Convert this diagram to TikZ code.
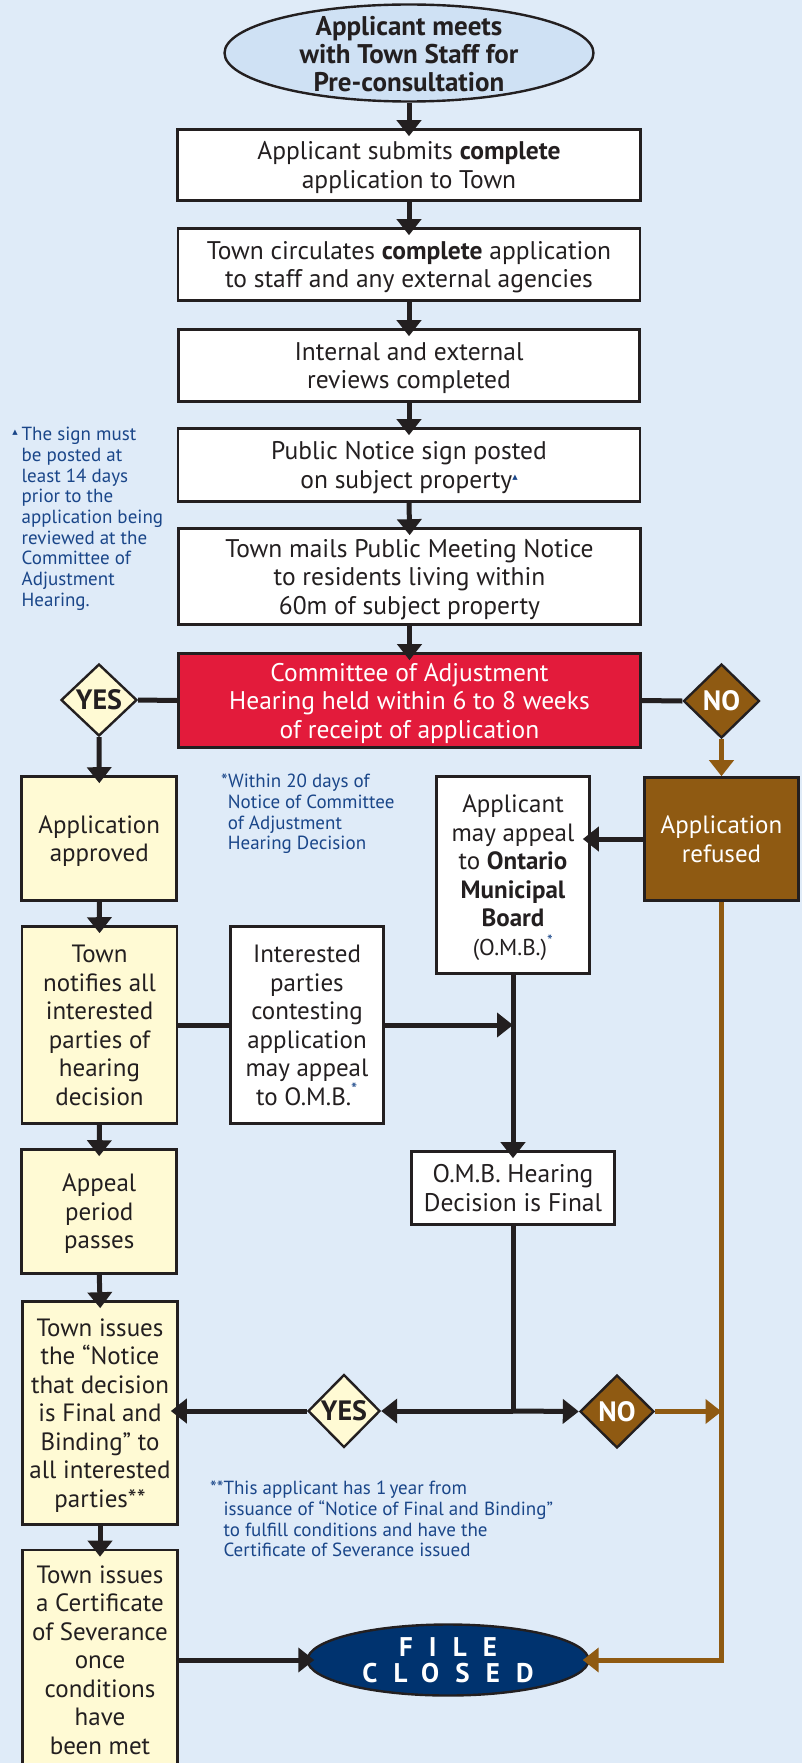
\documentclass[tikz,border=0pt]{standalone}
\usepackage{fontspec}
\setmainfont{PT Sans}
\newfontfamily\symfont{DejaVu Sans}
\newfontfamily\spacedfont[LetterSpace=60]{PT Sans}
\usetikzlibrary{arrows.meta,shapes.geometric}
\definecolor{bg}{HTML}{DFEBF8}
\definecolor{ellfill}{HTML}{CFE1F4}
\definecolor{linec}{HTML}{231F20}
\definecolor{redbox}{HTML}{E31B3B}
\definecolor{brownc}{HTML}{8F5A12}
\definecolor{yellowc}{HTML}{FFFAD4}
\definecolor{navy}{HTML}{00336F}
\definecolor{notec}{HTML}{1A4689}
\newcommand{\tri}{\textcolor{notec}{\symfont\fontsize{7}{7}\selectfont ▲}}
\begin{document}
\begin{tikzpicture}[x=1pt,y=-1pt,
  box/.style={draw=linec, line width=2.6pt, fill=white, align=center, inner sep=0pt, text=linec, text depth=0pt, font=\fontsize{25.5}{28.5}\selectfont},
  ybox/.style={box, fill=yellowc, font=\fontsize{25}{28.5}\selectfont},
  dia/.style={diamond, draw=linec, line width=2.4pt, inner sep=0pt, font=\bfseries\fontsize{28}{28}\selectfont},
  arr/.style={draw=linec, line width=5pt, -{Triangle[length=16pt,width=24pt]}, shorten >=-8pt},
  darr/.style={draw=linec, line width=5pt, -{Triangle[length=16pt,width=24pt]}},
  plain/.style={draw=linec, line width=5pt},
  barr/.style={draw=brownc, line width=5pt, -{Triangle[length=16pt,width=24pt]}},
  note/.style={text=notec, align=left, inner sep=0pt, anchor=north west, font=\fontsize{19}{20.7}\selectfont}
]
\path[use as bounding box, fill=bg] (0,0) rectangle (802,1763);

% top ellipse
\node[ellipse, draw=linec, line width=2.4pt, fill=ellfill, minimum width=369pt, minimum height=97pt, inner sep=0pt] (pre) at (409,53) {};
\node[align=center, inner sep=0pt, text=linec, text depth=0pt, font=\bfseries\fontsize{27}{28}\selectfont] (pretext) at (409,54) {Applicant meets\\with Town Staff for\\Pre-consultation};

% main column
\node[box, minimum width=463pt, minimum height=71pt] (b1) at (409,165) {Applicant submits \textbf{complete}\\application to Town};
\node[box, minimum width=462pt, minimum height=72pt] (b2) at (409,264.5) {Town circulates \textbf{complete} application\\to staff and any external agencies};
\node[box, minimum width=461pt, minimum height=72pt] (b3) at (409,365.5) {Internal and external\\reviews completed};
\node[box, minimum width=462pt, minimum height=73pt] (b4) at (409,465) {Public Notice sign posted\\on subject property\raisebox{9pt}{\tri}};
\node[box, minimum width=462pt, minimum height=96pt] (b5) at (409.5,576.5) {Town mails Public Meeting Notice\\to residents living within\\60m of subject property};
\node[box, fill=redbox, text=white, minimum width=462pt, minimum height=94pt] (coa) at (409.5,700.5) {Committee of Adjustment\\Hearing held within 6 to 8 weeks\\of receipt of application};

% decisions top
\node[dia, fill=yellowc, text=linec, minimum width=76pt, minimum height=72pt] (yes1) at (99,700) {YES};
\node[dia, fill=brownc, text=white, minimum width=76pt, minimum height=74pt] (no1) at (721.5,701) {NO};

% left column
\node[ybox, minimum width=155pt, minimum height=124pt] (approved) at (99.25,838.5) {Application\\approved};
\node[ybox, minimum width=155pt, minimum height=197pt] (notify) at (99.5,1025) {Town\\notifies all\\interested\\parties of\\hearing\\decision};
\node[ybox, minimum width=155pt, minimum height=124pt] (appeal) at (99.25,1211.5) {Appeal\\period\\passes};
\node[ybox, minimum width=155pt, minimum height=223pt] (notice) at (100,1413) {Town issues\\the “Notice\\that decision\\is Final and\\Binding” to\\all interested\\parties**};
\node[ybox, minimum width=155pt, minimum height=220pt] (cert) at (100,1660) {Town issues\\a Certificate\\of Severance\\once\\conditions\\have\\been met};

% middle / right
\node[box, font=\fontsize{25}{28.5}\selectfont, minimum width=153pt, minimum height=197pt] (interested) at (307,1025) {Interested\\parties\\contesting\\application\\may appeal\\to O.M.B.\textsuperscript{\textcolor{notec}{*}}};
\node[box, font=\fontsize{25}{28.5}\selectfont, minimum width=153pt, minimum height=197pt] (omba) at (513,875) {Applicant\\may appeal\\to \textbf{Ontario}\\\textbf{Municipal}\\\textbf{Board}\\{\fontsize{23}{26}\selectfont(O.M.B.)\textsuperscript{\textcolor{notec}{*}}}};
\node[box, font=\fontsize{25}{28.5}\selectfont, fill=brownc, text=white, minimum width=154pt, minimum height=123pt] (refused) at (721.5,839) {Application\\refused};
\node[box, minimum width=203pt, minimum height=73pt] (ombd) at (513,1188) {O.M.B. Hearing\\Decision is Final};

% decisions bottom
\node[dia, fill=yellowc, text=linec, minimum width=72pt, minimum height=73pt] (yes2) at (344,1411) {YES};
\node[dia, fill=brownc, text=white, minimum width=74pt, minimum height=73pt] (no2) at (617,1411.5) {NO};

% file closed
\node[ellipse, draw=linec, line width=2.4pt, fill=navy, text=white, minimum width=281pt, minimum height=71pt, inner sep=0pt, align=center, font=\spacedfont\bfseries\fontsize{27}{26}\selectfont] (closed) at (448,1660) {FILE\\CLOSED};

% notes
\node[note] (note1) at (21.5,427) {\llap{\raisebox{6pt}{\tri}\hspace{4pt}}The sign must\\be posted at\\least 14 days\\prior to the\\application being\\reviewed at the\\Committee of\\Adjustment\\Hearing.};
\node[note] (note2) at (221,774) {*Within 20 days of\\\phantom{*}Notice of Committee\\\phantom{*}of Adjustment\\\phantom{*}Hearing Decision};
\node[note] (note3) at (210,1481) {**This applicant has 1\,year from\\\phantom{**}issuance of “Notice of Final and Binding”\\\phantom{**}to fulfill conditions and have the\\\phantom{**}Certificate of Severance issued};

% connectors main column
\draw[arr] (pre.south) -- (b1.north);
\draw[arr] (b1.south) -- (b2.north);
\draw[arr] (b2.south) -- (b3.north);
\draw[arr] (b3.south) -- (b4.north);
\draw[arr] (b4.south) -- (b5.north);
\draw[arr] (b5.south) -- (coa.north);
\draw[plain] (coa.west) -- (yes1.east);
\draw[plain] (coa.east) -- (no1.west);
\draw[arr] (yes1.south) -- (approved.north);
\draw[barr] (no1.south) -- (refused.north);
\draw[arr] (approved.south) -- (notify.north);
\draw[arr] (notify.south) -- (appeal.north);
\draw[arr] (appeal.south) -- (notice.north);
\draw[arr] (notice.south) -- (cert.north);
\draw[plain] (notify.east) -- (interested.west);
\coordinate (j1) at (omba.south |- interested.east);
\draw[darr] (interested.east) -- (j1);
\draw[arr] (refused.west) -- (refused.west -| omba.east);
\draw[arr] (omba.south) -- (ombd.north);
\coordinate (j2) at (ombd.south |- yes2.east);
\draw[plain] (ombd.south) -- (j2);
\draw[darr] (j2) -- (yes2.east);
\draw[darr] (j2) -- (no2.west);
\draw[arr] (yes2.west) -- (yes2.west -| notice.east);
\coordinate (r1) at (refused.south);
\draw[barr, shorten >=-7pt] (r1) |- (closed.east);
\draw[barr] (no2.east) -- (no2.east -| r1);
\draw[arr] (closed.west -| cert.east) -- (closed.west);
\end{tikzpicture}
\end{document}
